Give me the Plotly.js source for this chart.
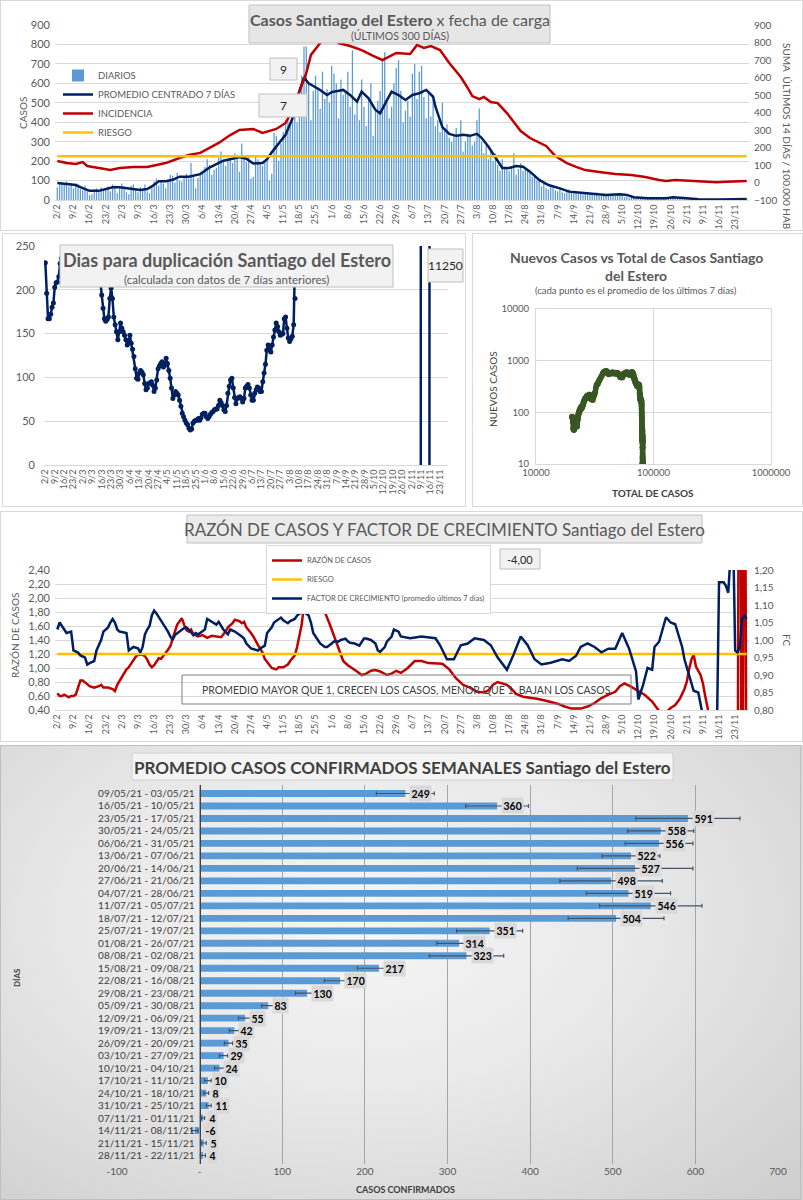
<!DOCTYPE html>
<html lang="es"><head><meta charset="utf-8">
<script src="https://cdn.plot.ly/plotly-3.0.1.min.js"></script>
<style>
html,body{margin:0;padding:0;background:#fff}
body{width:803px;height:1200px;position:relative;overflow:hidden}
.p{position:absolute}
.fr{position:absolute;border:1px solid #d9d9d9;box-sizing:border-box;pointer-events:none;z-index:5}
#c5{background:radial-gradient(ellipse 75% 85% at 45% 38%,#f6f6f6 0%,#e9e9e9 45%,#cfcfcf 100%)}
</style></head><body>
<div id="c1" class="p" style="left:0;top:0;width:803px;height:231px"></div>
<div id="c2" class="p" style="left:0;top:232px;width:466px;height:275px"></div>
<div id="c3" class="p" style="left:472px;top:232px;width:331px;height:275px"></div>
<div id="c4" class="p" style="left:0;top:512px;width:803px;height:230px"></div>
<div id="c5" class="p" style="left:0;top:745px;width:803px;height:455px"></div>
<div class="fr" style="left:0;top:0;width:803px;height:231px"></div>
<div class="fr" style="left:2px;top:233px;width:464px;height:274px"></div>
<div class="fr" style="left:472px;top:233px;width:331px;height:274px"></div>
<div class="fr" style="left:0;top:511px;width:803px;height:231px"></div>
<div class="fr" style="left:0;top:745px;width:801px;height:455px;border-color:#bfbfbf"></div>
<script>
// ---------------- DATA ----------------
// daily cases (fecha de carga) from 2/2/2021, 300 days
const diarios = [
 65,90,85,80,95,70,88,   60,85,80,55,50,75,45,   25,30,55,60,40,65,50,   55,70,45,80,75,35,60,
 85,70,40,30,75,80,55,   40,65,50,80,45,35,60,   95,110,75,100,85,60,105, 130,125,90,140,100,95,120,
 135,110,190,120,60,115,140, 150,170,210,180,130,155,165, 220,250,195,175,200,215,190, 240,215,145,290,230,195,225,
 110,120,230,210,190,175,200, 205,100,135,345,330,200,290, 350,410,450,380,420,440,400, 560,640,790,790,600,410,560,
 640,580,470,660,520,570,500, 690,650,600,420,620,540,560, 660,480,770,440,500,410,620, 480,380,520,600,330,470,510,
 560,720,760,500,420,480,600, 680,720,560,400,460,510,430, 650,700,520,660,690,530,420, 560,430,520,380,410,350,500,
 360,390,320,300,340,370,330, 410,250,300,340,330,280,300, 410,470,300,240,280,210,250, 200,240,180,150,210,170,160,
 150,175,240,130,160,190,150, 170,160,140,120,130,100,110, 70,85,60,55,75,65,50, 45,60,40,35,50,55,40,
 35,45,30,40,28,38,42, 30,35,25,38,22,28,32, 26,30,24,35,20,30,28, 25,15,18,12,20,16,10,
 10,8,12,6,9,7,11, 8,10,12,9,7,11,9, 12,10,14,8,11,9,13, 6,4,5,3,7,4,5,
 4,2,-6,3,5,2,3, 5,6,4,7,3,5,6, 4,5,3,6,4,5
];
// promedio centrado 7 dias (day offset from 2/2, value)
const promDay = [0,4,8,11,14,18,21,24,27,30,33,36,39,41,44,47,50,53,57,62,66,69,72,75,79,82,85,89,91,93,96,99,102,105,107,109,114,117,119,122,124,127,130,132,135,138,140,143,145,148,151,154,157,160,163,164,167,170,173,176,179,182,184,187,190,193,196,199,202,205,209,213,218,222,226,232,238,244,247,250,256,264,267,273,278,287,299];
const promVal = [88,82,77,61,47,47,56,66,66,61,56,52,56,70,96,96,104,120,120,133,167,185,202,210,221,212,188,190,210,245,290,335,420,560,630,600,566,540,555,560,566,540,506,557,523,463,446,514,557,540,514,540,549,566,531,480,375,340,330,335,330,340,320,274,216,165,165,175,171,146,103,77,60,43,38,31,26,29,26,14,9,9,14,9,4,3,5];
// incidencia 14 dias / 100.000 hab
const incDay = [0,4,8,11,13,18,23,27,33,39,43,47,53,57,62,66,70,75,79,85,89,95,99,102,105,108,110,115,119,122,127,132,137,141,147,153,156,159,162,166,170,175,178,180,183,185,188,191,195,198,201,205,209,212,216,221,225,229,235,242,249,255,261,264,268,275,281,286,290,299];
const incVal = [123,111,106,117,94,83,71,83,89,89,100,111,140,157,169,197,226,271,300,306,283,306,340,414,517,626,729,814,850,797,780,757,723,700,740,734,786,769,780,757,683,603,540,494,477,489,460,454,397,346,294,254,226,209,151,111,89,71,60,49,43,31,14,9,14,9,3,2,5,9];
const riesgoInc = 150;
// dias para duplicacion (daily from 2/2, d0..d188)
const dupValues = [231,196,167,167,172,180,185,203,208,209,215,230,
 236,242,250,262,275,290,305,318,330,338,345,350,352,348,340,330,318,305,292,280,270,262,255,248,242,236,230,224,218,210,
 194,179,167,164,166,169,190,202,190,169,160,152,143,152,162,156,152,148,143,137,141,148,139,132,124,110,99,98,105,108,
 106,103,93,86,88,93,94,95,91,84,88,97,110,113,116,118,112,114,122,116,108,99,88,76,80,84,82,80,74,67,
 59,55,51,48,46,42,40,41,48,50,51,51,53,51,54,58,59,59,55,53,55,58,60,61,63,64,64,68,74,71,
 68,63,61,68,82,90,97,99,88,77,70,76,77,78,76,72,76,88,90,92,88,80,74,74,82,86,89,88,84,84,
 95,105,115,131,137,133,129,137,146,154,162,158,152,148,149,150,167,169,156,145,141,144,147,160,190,209,240];
const dupLateDay = [190,195,200,210,220,230,240,250,260,270,279,280,283,286,287,292,299];
const dupLateVal = [290,380,520,800,1100,1500,2000,2800,4200,6500,9800,-3500,-5000,-2500,11250,7000,5000];
// total de casos acumulado al inicio del periodo
const totalBase = 19700;
// razon de casos
const razonDay = [0,1,2,3,4,5,6,7,8,9,10,11,12,13,14,16,18,19,20,22,24,25,26,27,28,29,30,31,32,33,34,35,37,38,39,40,41,42,43,44,45,46,47,48,49,50,51,52,54,55,56,57,58,59,61,63,65,67,69,71,73,74,76,77,79,80,81,82,84,85,87,89,90,92,93,95,96,98,100,101,103,104,105,106,107,108,109,110,111,112,113,114,116,118,120,121,123,124,126,128,130,132,134,136,138,140,142,143,145,147,149,152,155,158,161,164,167,170,173,176,179,182,185,187,189,191,193,195,197,199,202,205,208,211,214,217,220,223,227,230,233,236,239,242,244,246,249,252,255,258,260,262,264,266,268,270,272,273,274,275,276,277,279,280,281,282,283,285,288,291,294,295,296,297,298,299];
const razonVal = [0.64,0.60,0.60,0.62,0.60,0.58,0.60,0.60,0.62,0.72,0.82,0.82,0.80,0.77,0.74,0.72,0.74,0.76,0.72,0.72,0.70,0.67,0.76,0.82,0.88,0.93,0.98,1.01,1.06,1.12,1.16,1.19,1.19,1.17,1.12,1.05,1.01,1.04,1.09,1.14,1.13,1.17,1.22,1.26,1.31,1.40,1.52,1.62,1.71,1.62,1.54,1.52,1.55,1.48,1.45,1.47,1.43,1.46,1.45,1.44,1.52,1.58,1.64,1.69,1.67,1.64,1.66,1.58,1.50,1.45,1.33,1.22,1.13,1.05,1.00,0.98,1.01,1.01,1.05,1.10,1.18,1.30,1.45,1.62,1.90,2.25,2.45,2.55,2.50,2.35,2.18,2.10,1.80,1.64,1.47,1.36,1.19,1.10,1.04,1.00,0.95,0.90,0.92,0.96,0.97,0.95,0.92,0.90,0.92,0.96,0.93,1.00,1.10,1.10,1.07,1.06,1.06,0.98,0.85,0.76,0.72,0.66,0.65,0.68,0.76,0.80,0.78,0.76,0.70,0.63,0.59,0.58,0.56,0.54,0.52,0.49,0.45,0.42,0.42,0.45,0.50,0.57,0.62,0.66,0.74,0.78,0.73,0.67,0.61,0.52,0.42,0.34,0.36,0.43,0.47,0.56,0.70,0.80,0.98,1.12,1.19,1.02,0.90,0.78,0.60,0.42,0.25,0.00,-0.50,-1.00,-1.50,-2.00,9.00,-4.00,7.00,-2.00];
const riesgoRazon = 1.2;
// factor de crecimiento
const fcDay = [0,1,3,4,6,7,9,10,12,13,14,16,17,19,20,22,23,24,25,26,27,30,31,32,33,35,36,37,38,39,40,41,42,43,45,46,48,49,50,51,53,55,56,57,59,60,61,63,64,65,67,69,70,71,72,74,75,77,78,80,81,82,84,85,87,88,90,91,93,94,96,97,98,100,101,103,104,106,107,109,110,111,113,114,116,117,119,120,122,123,125,126,127,129,131,133,134,136,138,139,140,142,143,145,146,148,149,153,158,164,166,169,172,175,178,181,185,188,191,195,198,201,204,207,210,214,219,222,225,227,230,233,236,239,242,245,248,251,252,254,256,258,259,261,264,266,268,271,272,274,276,278,280,282,284,286,287,289,290,291,293,294,295,296,297,298,299];
const fcVal = [1.03,1.05,1.03,1.02,1.024,0.97,0.964,0.956,0.95,0.93,0.934,0.94,0.97,1.00,1.024,1.036,1.05,1.06,1.05,1.03,1.024,1.02,0.97,0.976,0.98,0.976,0.964,0.98,1.016,1.03,1.04,1.07,1.084,1.076,1.056,1.044,1.024,1.01,1.00,1.014,1.024,1.034,1.036,1.03,1.014,1.02,1.016,1.024,1.03,1.06,1.052,1.044,1.052,1.04,1.03,1.016,1.03,1.024,1.02,1.01,1.004,0.99,0.976,0.974,0.97,0.976,0.984,1.02,1.036,1.05,1.06,1.064,1.056,1.048,1.054,1.06,1.07,1.08,1.08,1.07,1.05,1.02,1.00,0.99,0.98,0.98,0.99,0.996,0.996,1.00,1.004,0.996,0.992,0.99,0.984,1.004,1.004,1.00,0.99,0.97,0.966,0.98,0.996,1.01,1.03,1.024,1.01,1.005,1.01,1.005,0.985,0.945,0.945,0.985,0.99,1.005,1.00,0.985,0.95,0.915,0.96,1.01,0.985,0.945,0.93,0.935,0.945,0.94,0.955,0.98,0.99,0.98,0.965,0.975,0.975,1.02,0.975,0.91,0.83,0.87,0.92,0.915,0.98,0.995,1.065,1.05,1.045,0.98,0.945,0.90,0.855,0.85,0.78,0.70,0.65,0.70,1.165,1.165,1.155,1.135,1.35,0.97,0.965,0.98,1.06,1.07,1.06];
// promedio semanal
const semanas = ['09/05/21 - 03/05/21','16/05/21 - 10/05/21','23/05/21 - 17/05/21','30/05/21 - 24/05/21','06/06/21 - 31/05/21','13/06/21 - 07/06/21','20/06/21 - 14/06/21','27/06/21 - 21/06/21','04/07/21 - 28/06/21','11/07/21 - 05/07/21','18/07/21 - 12/07/21','25/07/21 - 19/07/21','01/08/21 - 26/07/21','08/08/21 - 02/08/21','15/08/21 - 09/08/21','22/08/21 - 16/08/21','29/08/21 - 23/08/21','05/09/21 - 30/08/21','12/09/21 - 06/09/21','19/09/21 - 13/09/21','26/09/21 - 20/09/21','03/10/21 - 27/09/21','10/10/21 - 04/10/21','17/10/21 - 11/10/21','24/10/21 - 18/10/21','31/10/21 - 25/10/21','07/11/21 - 01/11/21','14/11/21 - 08/11/21','21/11/21 - 15/11/21','28/11/21 - 22/11/21'];
const promSemanal = [249,360,591,558,556,522,527,498,519,546,504,351,314,323,217,170,130,83,55,42,35,29,24,10,8,11,4,-6,5,4];
const errSemanal = [35,38,63,40,41,35,70,62,51,62,58,40,27,45,26,19,14,8,8,6,5,5,6,4,3,3,2,4,3,3];
const semTicks = [-100,0,100,200,300,400,500,600,700];
const semTickText = ['-100','-','100','200','300','400','500','600','700'];

// ---------------- HELPERS ----------------
const FONT = 'Lato, "Open Sans", sans-serif';
const GRAY = '#595959';
const DAY = 86400000, T0 = Date.UTC(2021,1,2);
const dateOf = d => new Date(T0 + d*DAY).toISOString().slice(0,10);
const dm = d => { const t = new Date(T0 + d*DAY); return t.getUTCDate() + '/' + (t.getUTCMonth()+1); };
const tickDays = []; for (let d = 0; d <= 294; d += 7) tickDays.push(d);
const tickVals = tickDays.map(dateOf), tickText = tickDays.map(dm);
const X_RANGE = ['2021-02-01','2021-11-29'];
function mk(x0,x1,y0,y1){ return {X:v=>(v-x0)/(x1-x0), Y:v=>(y1-v)/(y1-y0)}; }
function rect(F,a,b,c,d,fill,line){ return {type:'rect',xref:'paper',yref:'paper',x0:F.X(a),x1:F.X(c),y0:F.Y(d),y1:F.Y(b),fillcolor:fill,line:{color:line||'rgba(0,0,0,0)',width:1},layer:'above'}; }
function txt(F,x,y,text,size,color,o){ return Object.assign({xref:'paper',yref:'paper',x:F.X(x),y:F.Y(y),text:text,showarrow:false,xanchor:'center',yanchor:'middle',font:{family:FONT,size:size,color:color||GRAY}},o||{}); }
const cfg = {staticPlot:true, displayModeBar:false};
const dateAxis = {type:'date',range:X_RANGE,tickvals:tickVals,ticktext:tickText,tickangle:-90,tickfont:{size:9,color:GRAY},showgrid:false,showline:true,linecolor:'#d9d9d9',ticks:'',zeroline:false};

// ---------------- PANEL 1 ----------------
const F1 = mk(55,749,25,200);
Plotly.newPlot('c1', [
 {type:'bar',x:diarios.map((v,i)=>dateOf(i)),y:diarios,name:'DIARIOS',marker:{color:'#5b9bd5'},width:0.55*DAY},
 {type:'scatter',mode:'lines',x:promDay.map(dateOf),y:promVal,name:'PROMEDIO CENTRADO 7 DÍAS',line:{color:'#002060',width:2.5}},
 {type:'scatter',mode:'lines',x:incDay.map(dateOf),y:incVal,name:'INCIDENCIA',yaxis:'y2',line:{color:'#c00000',width:2.5}},
 {type:'scatter',mode:'lines',x:[dateOf(0),dateOf(299)],y:[riesgoInc,riesgoInc],name:'RIESGO',yaxis:'y2',line:{color:'#ffc000',width:2.5}}
], {
 width:803,height:231,margin:{l:55,r:54,t:25,b:31},
 paper_bgcolor:'#fff',plot_bgcolor:'#fff',font:{family:FONT,color:GRAY},
 showlegend:true,
 legend:{x:F1.X(58),y:F1.Y(61),xanchor:'left',yanchor:'top',bgcolor:'rgba(0,0,0,0)',font:{size:9.5,color:GRAY},itemwidth:30},
 xaxis:dateAxis,
 yaxis:{range:[0,900],dtick:100,gridcolor:'#d9d9d9',zeroline:false,tickfont:{size:11,color:GRAY},ticklabelstandoff:4},
 yaxis2:{overlaying:'y',side:'right',range:[-100,900],dtick:100,showgrid:false,zeroline:false,tickfont:{size:10,color:GRAY},ticklabelstandoff:4},
 shapes:[rect(F1,249,5,550,43,'#e7e6e6','#bfbfbf'),rect(F1,270,58,297,80,'#f2f2f2','#bfbfbf'),rect(F1,259,94,307,117,'#f2f2f2','#bfbfbf')],
 annotations:[
  txt(F1,399.5,19,'<b>Casos Santiago del Estero</b> x fecha de carga',16),
  txt(F1,399.5,35,'(ÚLTIMOS 300 DÍAS)',10.5),
  txt(F1,283.5,69,'9',12,'#262626'),
  txt(F1,283,105.5,'7',12,'#262626'),
  txt(F1,23,113,'CASOS',10,GRAY,{textangle:-90}),
  txt(F1,787,136,'SUMA  ÚLTIMOS 14 DÍAS / 100.000 HAB',10,GRAY,{textangle:90})
 ]
}, cfg);

// ---------------- PANEL 2 ----------------
const F2 = mk(44,448,246,465);
const dupX = dupValues.map((v,i)=>dateOf(i)).concat(dupLateDay.map(dateOf));
const dupY = dupValues.concat(dupLateVal);
Plotly.newPlot('c2', [
 {type:'scatter',mode:'lines+markers',x:dupX,y:dupY,line:{color:'#002060',width:2.5},marker:{color:'#002060',size:5}}
], {
 width:466,height:275,margin:{l:44,r:18,t:14,b:42},
 paper_bgcolor:'#fff',plot_bgcolor:'#fff',font:{family:FONT,color:GRAY},showlegend:false,
 xaxis:dateAxis,
 yaxis:{range:[0,250],dtick:50,gridcolor:'#d9d9d9',zeroline:false,tickfont:{size:11,color:GRAY},ticklabelstandoff:8},
 shapes:[rect(F2,60,245,393,287,'#f2f2f2','#bfbfbf'),rect(F2,428,249,463,282,'#f2f2f2','#bfbfbf')],
 annotations:[
  txt(F2,226.5,260,'<b>Dias para duplicación Santiago del Estero</b>',18),
  txt(F2,226.5,279,'(calculada con datos de 7 días anteriores)',11.5),
  txt(F2,445.5,265.5,'11250',12,'#262626')
 ]
}, cfg);

// ---------------- PANEL 3 ----------------
const F3 = mk(536,771,309,464);
const totX = [], newY = [];
let cum = totalBase;
diarios.forEach((v,i)=>{
 cum += v;
 if (i >= 6) { let s = 0; for (let k=i-6;k<=i;k++) s += diarios[k]; const a = s/7; if (a > 0) { totX.push(cum); newY.push(a); } }
});
Plotly.newPlot('c3', [
 {type:'scatter',mode:'lines+markers',x:totX,y:newY,line:{color:'#385723',width:2},marker:{color:'#385723',size:6}}
], {
 width:331,height:275,margin:{l:64,r:32,t:77,b:43},
 paper_bgcolor:'#fff',plot_bgcolor:'#fff',font:{family:FONT,color:GRAY},showlegend:false,
 xaxis:{type:'log',range:[4,6],tickvals:[1e4,1e5,1e6],ticktext:['10000','100000','1000000'],gridcolor:'#d9d9d9',showline:true,mirror:true,linecolor:'#d9d9d9',zeroline:false,ticks:'',tickfont:{size:9.5,color:GRAY}},
 yaxis:{type:'log',range:[1,4],tickvals:[10,100,1000,10000],ticktext:['10','100','1000','10000'],gridcolor:'#d9d9d9',showline:true,mirror:true,linecolor:'#d9d9d9',zeroline:false,ticks:'',tickfont:{size:9.5,color:GRAY},ticklabelstandoff:4},
 annotations:[
  txt(F3,636,257,'<b>Nuevos Casos vs Total de Casos Santiago</b>',14),
  txt(F3,636,275,'<b>del Estero</b>',14),
  txt(F3,636,291,'(cada punto es el promedio de los últimos 7 días)',9.5),
  txt(F3,493,389,'NUEVOS CASOS',10,'#404040',{textangle:-90}),
  txt(F3,653,493,'<b>TOTAL DE CASOS</b>',10,'#404040')
 ]
}, cfg);

// ---------------- PANEL 4 ----------------
const F4 = mk(55,749,570,710);
Plotly.newPlot('c4', [
 {type:'scatter',mode:'lines',x:razonDay.map(dateOf),y:razonVal,name:'RAZÓN DE CASOS',line:{color:'#c00000',width:2.5}},
 {type:'scatter',mode:'lines',x:[dateOf(0),dateOf(299)],y:[riesgoRazon,riesgoRazon],name:'RIESGO',line:{color:'#ffc000',width:2.5}},
 {type:'scatter',mode:'lines',x:fcDay.map(dateOf),y:fcVal,name:'FACTOR DE CRECIMIENTO (promedio últimos 7 días)',yaxis:'y2',line:{color:'#002060',width:2.5}}
], {
 width:803,height:230,margin:{l:55,r:54,t:58,b:32},separators:',.',
 paper_bgcolor:'#fff',plot_bgcolor:'#fff',font:{family:FONT,color:GRAY},
 showlegend:true,
 legend:{x:F4.X(266),y:F4.Y(545),xanchor:'left',yanchor:'top',bgcolor:'#fff',bordercolor:'#d9d9d9',borderwidth:1,font:{size:7.5,color:GRAY},itemwidth:30,tracegroupgap:0},
 xaxis:dateAxis,
 yaxis:{range:[0.4,2.4],dtick:0.2,tickformat:'.2f',gridcolor:'#d9d9d9',zeroline:false,tickfont:{size:11,color:GRAY},ticklabelstandoff:4},
 yaxis2:{overlaying:'y',side:'right',range:[0.8,1.2],dtick:0.05,tickformat:'.2f',showgrid:false,zeroline:false,tickfont:{size:10,color:GRAY},ticklabelstandoff:4},
 shapes:[rect(F4,187,515,702,543,'#ebebeb','#bfbfbf'),rect(F4,500,549,540,569,'#f2f2f2','#bfbfbf'),rect(F4,182,675,631,704,'rgba(0,0,0,0)','#7f7f7f')],
 annotations:[
  txt(F4,444.5,529.5,'RAZÓN DE CASOS Y FACTOR DE CRECIMIENTO Santiago del Estero',17),
  txt(F4,520,559,'-4,00',11,'#262626'),
  txt(F4,406.5,690,'PROMEDIO MAYOR QUE 1, CRECEN LOS CASOS, MENOR QUE 1, BAJAN LOS CASOS',10.5,'#404040'),
  txt(F4,15,636,'RAZÓN DE CASOS',10,GRAY,{textangle:-90}),
  txt(F4,787,640,'FC',10,GRAY,{textangle:90})
 ]
}, cfg);

// ---------------- PANEL 5 ----------------
const F5 = mk(117,778,785,1164);
const labels = semanas.map((c,i)=>({xref:'x',yref:'y',x:Math.max(promSemanal[i],0),y:c,text:'<b>'+promSemanal[i]+'</b>',showarrow:false,
 xanchor:'left',xshift:promSemanal[i]<0?3:4,yanchor:'middle',bgcolor:'#d9d9d9',borderpad:1.5,
 font:{family:FONT,size:10.5,color:'#000'}}));
Plotly.newPlot('c5', [
 {type:'bar',orientation:'h',x:promSemanal,y:semanas,marker:{color:'#5b9bd5'},width:0.55,
  error_x:{type:'data',array:errSemanal,visible:true,color:'#44546a',thickness:1.2,width:2}}
], {
 width:803,height:455,margin:{l:117,r:25,t:40,b:36},
 paper_bgcolor:'rgba(0,0,0,0)',plot_bgcolor:'rgba(0,0,0,0)',font:{family:FONT,color:'#404040'},showlegend:false,
 xaxis:{range:[-100,700],tickvals:semTicks,ticktext:semTickText,gridcolor:'#a6a6a6',zeroline:false,ticks:'',tickfont:{size:10,color:GRAY}},
 yaxis:{type:'category',autorange:'reversed',anchor:'free',position:0.125,showline:true,linecolor:'#404040',linewidth:1.5,showgrid:false,ticks:'',tickfont:{size:10,color:'#404040'},ticklabelstandoff:3},
 shapes:[rect(F5,132,753,673,780,'#f4f4f4','#d0d0d0')],
 annotations:labels.concat([
  txt(F5,402.5,767,'<b>PROMEDIO CASOS CONFIRMADOS SEMANALES Santiago del Estero</b>',17,'#404040'),
  txt(F5,17,978,'<b>DÍAS</b>',8,'#404040',{textangle:-90}),
  txt(F5,405,1189,'<b>CASOS CONFIRMADOS</b>',9,'#404040')
 ])
}, cfg);
</script>
</body></html>
